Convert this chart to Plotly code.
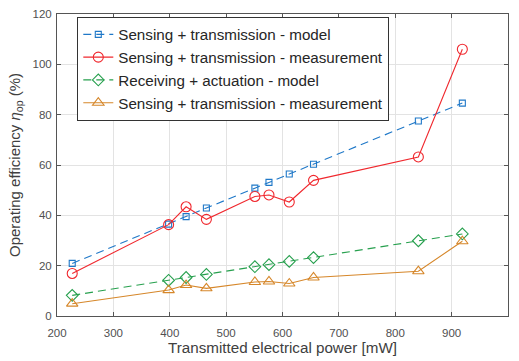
import plotly.graph_objects as go

power = [227, 398, 429, 465, 551, 576, 612, 655, 841, 919]
st_model = [20.9, 36.5, 39.5, 42.9, 50.8, 53.1, 56.4, 60.3, 77.5, 84.6]
st_meas = [16.9, 36.3, 43.4, 38.4, 47.5, 48.1, 45.3, 53.9, 63.2, 106.0]
ra_model = [8.2, 14.2, 15.3, 16.5, 19.6, 20.4, 21.7, 23.2, 29.9, 32.6]
ra_meas = [4.9, 10.3, 12.3, 11.0, 13.5, 13.7, 12.9, 15.3, 17.8, 29.7]

names = ["Sensing + transmission - model",
         "Sensing + transmission - measurement",
         "Receiving + actuation - model",
         "Sensing + transmission - measurement"]

FONT = "Liberation Sans, Arial, sans-serif"

fig = go.Figure()
fig.add_trace(go.Scatter(x=power, y=st_model, name=names[0], mode="lines+markers",
                         line=dict(color="#1f78c8", width=1.1, dash="8px,5px"),
                         marker=dict(symbol="square-open", size=6, color="#1f78c8", line=dict(width=1.1))))
fig.add_trace(go.Scatter(x=power, y=st_meas, name=names[1], mode="lines+markers",
                         line=dict(color="#f0282e", width=1.1),
                         marker=dict(symbol="circle-open", size=10, color="#f0282e", line=dict(width=1.1))))
fig.add_trace(go.Scatter(x=power, y=ra_model, name=names[2], mode="lines+markers",
                         line=dict(color="#27a04e", width=1.1, dash="8px,5px"),
                         marker=dict(symbol="diamond-open", size=9, color="#27a04e", line=dict(width=1.1))))
fig.add_trace(go.Scatter(x=power, y=ra_meas, name=names[3], mode="lines+markers",
                         line=dict(color="#d6872a", width=1.1),
                         marker=dict(symbol="triangle-up-open", size=10, color="#d6872a", line=dict(width=1.1))))

axis_common = dict(
    showline=True, linecolor="#555555", linewidth=1, mirror="ticks",
    ticks="inside", ticklen=4, tickcolor="#555555",
    showgrid=True, gridcolor="#e3e3e3", gridwidth=1, zeroline=False,
    tickfont=dict(family=FONT, size=11.5, color="#505050"),
)

fig.update_layout(
    width=519, height=361,
    margin=dict(l=57, r=11, t=8, b=43),
    paper_bgcolor="white", plot_bgcolor="white",
    font=dict(family=FONT, color="#404040"),
    xaxis=dict(range=[200, 1000], dtick=100, ticklabelstandoff=6,
               title=dict(text="Transmitted electrical power [mW]",
                          font=dict(size=15.2, color="#404040"), standoff=4), **axis_common),
    yaxis=dict(range=[0, 120], dtick=20, ticklabelstandoff=2,
               title=dict(text="Operating efficiency <i>η</i><sub>op</sub> (%)",
                          font=dict(size=15, color="#404040"), standoff=8), **axis_common),
    legend=dict(x=0.045, y=0.99, xanchor="left", yanchor="top",
                bgcolor="white", bordercolor="#333333", borderwidth=1,
                font=dict(family=FONT, size=15.2, color="#262626"),
                tracegroupgap=0, itemwidth=30),
    showlegend=True,
)

fig.write_html("out.html")
